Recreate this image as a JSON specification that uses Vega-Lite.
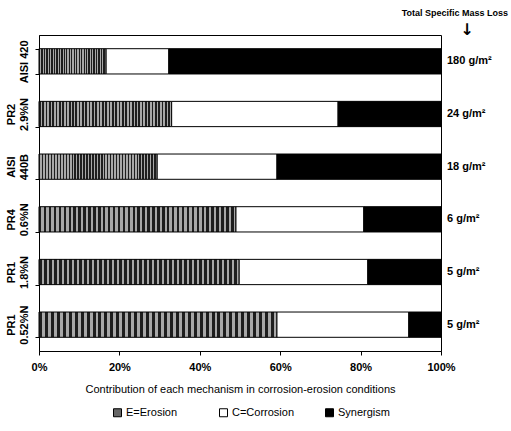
{
  "$schema": "https://vega.github.io/schema/vega-lite/v6.json",
  "autosize": "none",
  "padding": {"left": 39, "top": 35, "right": 70, "bottom": 80},
  "width": 402,
  "height": 316,
  "background": "white",
  "config": {
    "font": "Liberation Sans",
    "view": {"stroke": "black", "strokeWidth": 1},
    "axis": {"domainColor": "black", "tickColor": "black", "labelColor": "black", "titleColor": "black", "grid": false}
  },
  "datasets": {
    "bars": [
      {"sample": " |AISI 420", "mechanism": "E=Erosion", "k": 1, "value": 16.7},
      {"sample": " |AISI 420", "mechanism": "C=Corrosion", "k": 2, "value": 15.6},
      {"sample": " |AISI 420", "mechanism": "Synergism", "k": 3, "value": 67.7},
      {"sample": "PR2|2.9%N", "mechanism": "E=Erosion", "k": 1, "value": 33.0},
      {"sample": "PR2|2.9%N", "mechanism": "C=Corrosion", "k": 2, "value": 41.4},
      {"sample": "PR2|2.9%N", "mechanism": "Synergism", "k": 3, "value": 25.6},
      {"sample": "AISI|440B", "mechanism": "E=Erosion", "k": 1, "value": 29.4},
      {"sample": "AISI|440B", "mechanism": "C=Corrosion", "k": 2, "value": 29.8},
      {"sample": "AISI|440B", "mechanism": "Synergism", "k": 3, "value": 40.8},
      {"sample": "PR4|0.6%N", "mechanism": "E=Erosion", "k": 1, "value": 49.0},
      {"sample": "PR4|0.6%N", "mechanism": "C=Corrosion", "k": 2, "value": 31.8},
      {"sample": "PR4|0.6%N", "mechanism": "Synergism", "k": 3, "value": 19.2},
      {"sample": "PR1|1.8%N", "mechanism": "E=Erosion", "k": 1, "value": 49.8},
      {"sample": "PR1|1.8%N", "mechanism": "C=Corrosion", "k": 2, "value": 32.0},
      {"sample": "PR1|1.8%N", "mechanism": "Synergism", "k": 3, "value": 18.2},
      {"sample": "PR1|0.52%N", "mechanism": "E=Erosion", "k": 1, "value": 59.2},
      {"sample": "PR1|0.52%N", "mechanism": "C=Corrosion", "k": 2, "value": 32.8},
      {"sample": "PR1|0.52%N", "mechanism": "Synergism", "k": 3, "value": 8.0}
    ],
    "loss": [
      {"sample": " |AISI 420", "loss": "180 g/m²"},
      {"sample": "PR2|2.9%N", "loss": "24 g/m²"},
      {"sample": "AISI|440B", "loss": "18 g/m²"},
      {"sample": "PR4|0.6%N", "loss": "6 g/m²"},
      {"sample": "PR1|1.8%N", "loss": "5 g/m²"},
      {"sample": "PR1|0.52%N", "loss": "5 g/m²"}
    ],
    "header": [
      {"sample": " |AISI 420", "label": "Total Specific Mass Loss", "arrow": "↓"}
    ]
  },
  "encoding": {
    "y": {
      "field": "sample",
      "type": "nominal",
      "sort": [" |AISI 420", "PR2|2.9%N", "AISI|440B", "PR4|0.6%N", "PR1|1.8%N", "PR1|0.52%N"],
      "scale": {"paddingInner": 0.52, "paddingOuter": 0.26},
      "axis": {
        "title": null,
        "labelExpr": "split(datum.label, '|')",
        "labelAngle": 270,
        "labelAlign": "center",
        "labelBaseline": "bottom",
        "labelFontSize": 11,
        "labelFontWeight": "bold",
        "labelPadding": 19,
        "labelLineHeight": 13,
        "tickBand": "extent",
        "tickSize": 4
      }
    }
  },
  "layer": [
    {
      "data": {"name": "bars"},
      "mark": {"type": "bar", "stroke": "black", "strokeWidth": 1},
      "encoding": {
        "x": {
          "field": "value",
          "type": "quantitative",
          "stack": "zero",
          "scale": {"domain": [0, 100], "nice": false},
          "axis": {
            "values": [0, 20, 40, 60, 80, 100],
            "labelExpr": "datum.value + '%'",
            "title": "Contribution of each mechanism in corrosion-erosion conditions",
            "titleFontSize": 11,
            "titleFontWeight": "normal",
            "titlePadding": 11,
            "labelFontSize": 11,
            "labelFontWeight": "bold",
            "labelPadding": 6,
            "tickSize": 4,
            "labelFlush": false
          }
        },
        "fill": {
          "condition": {"test": "datum.mechanism === 'E=Erosion'", "value": {"gradient": "linear", "x1": 0, "y1": 0, "x2": 1, "y2": 0, "stops": [
              {"offset": 0, "color": "#1e1e1e"}, {"offset": 0.0125, "color": "#1e1e1e"}, {"offset": 0.0125, "color": "#a8a8a8"}, {"offset": 0.025, "color": "#a8a8a8"},
              {"offset": 0.025, "color": "#1e1e1e"}, {"offset": 0.0375, "color": "#1e1e1e"}, {"offset": 0.0375, "color": "#a8a8a8"}, {"offset": 0.05, "color": "#a8a8a8"},
              {"offset": 0.05, "color": "#1e1e1e"}, {"offset": 0.0625, "color": "#1e1e1e"}, {"offset": 0.0625, "color": "#a8a8a8"}, {"offset": 0.075, "color": "#a8a8a8"},
              {"offset": 0.075, "color": "#1e1e1e"}, {"offset": 0.0875, "color": "#1e1e1e"}, {"offset": 0.0875, "color": "#a8a8a8"}, {"offset": 0.1, "color": "#a8a8a8"},
              {"offset": 0.1, "color": "#1e1e1e"}, {"offset": 0.1125, "color": "#1e1e1e"}, {"offset": 0.1125, "color": "#a8a8a8"}, {"offset": 0.125, "color": "#a8a8a8"},
              {"offset": 0.125, "color": "#1e1e1e"}, {"offset": 0.1375, "color": "#1e1e1e"}, {"offset": 0.1375, "color": "#a8a8a8"}, {"offset": 0.15, "color": "#a8a8a8"},
              {"offset": 0.15, "color": "#1e1e1e"}, {"offset": 0.1625, "color": "#1e1e1e"}, {"offset": 0.1625, "color": "#a8a8a8"}, {"offset": 0.175, "color": "#a8a8a8"},
              {"offset": 0.175, "color": "#1e1e1e"}, {"offset": 0.1875, "color": "#1e1e1e"}, {"offset": 0.1875, "color": "#a8a8a8"}, {"offset": 0.2, "color": "#a8a8a8"},
              {"offset": 0.2, "color": "#1e1e1e"}, {"offset": 0.2125, "color": "#1e1e1e"}, {"offset": 0.2125, "color": "#a8a8a8"}, {"offset": 0.225, "color": "#a8a8a8"},
              {"offset": 0.225, "color": "#1e1e1e"}, {"offset": 0.2375, "color": "#1e1e1e"}, {"offset": 0.2375, "color": "#a8a8a8"}, {"offset": 0.25, "color": "#a8a8a8"},
              {"offset": 0.25, "color": "#1e1e1e"}, {"offset": 0.2625, "color": "#1e1e1e"}, {"offset": 0.2625, "color": "#a8a8a8"}, {"offset": 0.275, "color": "#a8a8a8"},
              {"offset": 0.275, "color": "#1e1e1e"}, {"offset": 0.2875, "color": "#1e1e1e"}, {"offset": 0.2875, "color": "#a8a8a8"}, {"offset": 0.3, "color": "#a8a8a8"},
              {"offset": 0.3, "color": "#1e1e1e"}, {"offset": 0.3125, "color": "#1e1e1e"}, {"offset": 0.3125, "color": "#a8a8a8"}, {"offset": 0.325, "color": "#a8a8a8"},
              {"offset": 0.325, "color": "#1e1e1e"}, {"offset": 0.3375, "color": "#1e1e1e"}, {"offset": 0.3375, "color": "#a8a8a8"}, {"offset": 0.35, "color": "#a8a8a8"},
              {"offset": 0.35, "color": "#1e1e1e"}, {"offset": 0.3625, "color": "#1e1e1e"}, {"offset": 0.3625, "color": "#a8a8a8"}, {"offset": 0.375, "color": "#a8a8a8"},
              {"offset": 0.375, "color": "#1e1e1e"}, {"offset": 0.3875, "color": "#1e1e1e"}, {"offset": 0.3875, "color": "#a8a8a8"}, {"offset": 0.4, "color": "#a8a8a8"},
              {"offset": 0.4, "color": "#1e1e1e"}, {"offset": 0.4125, "color": "#1e1e1e"}, {"offset": 0.4125, "color": "#a8a8a8"}, {"offset": 0.425, "color": "#a8a8a8"},
              {"offset": 0.425, "color": "#1e1e1e"}, {"offset": 0.4375, "color": "#1e1e1e"}, {"offset": 0.4375, "color": "#a8a8a8"}, {"offset": 0.45, "color": "#a8a8a8"},
              {"offset": 0.45, "color": "#1e1e1e"}, {"offset": 0.4625, "color": "#1e1e1e"}, {"offset": 0.4625, "color": "#a8a8a8"}, {"offset": 0.475, "color": "#a8a8a8"},
              {"offset": 0.475, "color": "#1e1e1e"}, {"offset": 0.4875, "color": "#1e1e1e"}, {"offset": 0.4875, "color": "#a8a8a8"}, {"offset": 0.5, "color": "#a8a8a8"},
              {"offset": 0.5, "color": "#1e1e1e"}, {"offset": 0.5125, "color": "#1e1e1e"}, {"offset": 0.5125, "color": "#a8a8a8"}, {"offset": 0.525, "color": "#a8a8a8"},
              {"offset": 0.525, "color": "#1e1e1e"}, {"offset": 0.5375, "color": "#1e1e1e"}, {"offset": 0.5375, "color": "#a8a8a8"}, {"offset": 0.55, "color": "#a8a8a8"},
              {"offset": 0.55, "color": "#1e1e1e"}, {"offset": 0.5625, "color": "#1e1e1e"}, {"offset": 0.5625, "color": "#a8a8a8"}, {"offset": 0.575, "color": "#a8a8a8"},
              {"offset": 0.575, "color": "#1e1e1e"}, {"offset": 0.5875, "color": "#1e1e1e"}, {"offset": 0.5875, "color": "#a8a8a8"}, {"offset": 0.6, "color": "#a8a8a8"},
              {"offset": 0.6, "color": "#1e1e1e"}, {"offset": 0.6125, "color": "#1e1e1e"}, {"offset": 0.6125, "color": "#a8a8a8"}, {"offset": 0.625, "color": "#a8a8a8"},
              {"offset": 0.625, "color": "#1e1e1e"}, {"offset": 0.6375, "color": "#1e1e1e"}, {"offset": 0.6375, "color": "#a8a8a8"}, {"offset": 0.65, "color": "#a8a8a8"},
              {"offset": 0.65, "color": "#1e1e1e"}, {"offset": 0.6625, "color": "#1e1e1e"}, {"offset": 0.6625, "color": "#a8a8a8"}, {"offset": 0.675, "color": "#a8a8a8"},
              {"offset": 0.675, "color": "#1e1e1e"}, {"offset": 0.6875, "color": "#1e1e1e"}, {"offset": 0.6875, "color": "#a8a8a8"}, {"offset": 0.7, "color": "#a8a8a8"},
              {"offset": 0.7, "color": "#1e1e1e"}, {"offset": 0.7125, "color": "#1e1e1e"}, {"offset": 0.7125, "color": "#a8a8a8"}, {"offset": 0.725, "color": "#a8a8a8"},
              {"offset": 0.725, "color": "#1e1e1e"}, {"offset": 0.7375, "color": "#1e1e1e"}, {"offset": 0.7375, "color": "#a8a8a8"}, {"offset": 0.75, "color": "#a8a8a8"},
              {"offset": 0.75, "color": "#1e1e1e"}, {"offset": 0.7625, "color": "#1e1e1e"}, {"offset": 0.7625, "color": "#a8a8a8"}, {"offset": 0.775, "color": "#a8a8a8"},
              {"offset": 0.775, "color": "#1e1e1e"}, {"offset": 0.7875, "color": "#1e1e1e"}, {"offset": 0.7875, "color": "#a8a8a8"}, {"offset": 0.8, "color": "#a8a8a8"},
              {"offset": 0.8, "color": "#1e1e1e"}, {"offset": 0.8125, "color": "#1e1e1e"}, {"offset": 0.8125, "color": "#a8a8a8"}, {"offset": 0.825, "color": "#a8a8a8"},
              {"offset": 0.825, "color": "#1e1e1e"}, {"offset": 0.8375, "color": "#1e1e1e"}, {"offset": 0.8375, "color": "#a8a8a8"}, {"offset": 0.85, "color": "#a8a8a8"},
              {"offset": 0.85, "color": "#1e1e1e"}, {"offset": 0.8625, "color": "#1e1e1e"}, {"offset": 0.8625, "color": "#a8a8a8"}, {"offset": 0.875, "color": "#a8a8a8"},
              {"offset": 0.875, "color": "#1e1e1e"}, {"offset": 0.8875, "color": "#1e1e1e"}, {"offset": 0.8875, "color": "#a8a8a8"}, {"offset": 0.9, "color": "#a8a8a8"},
              {"offset": 0.9, "color": "#1e1e1e"}, {"offset": 0.9125, "color": "#1e1e1e"}, {"offset": 0.9125, "color": "#a8a8a8"}, {"offset": 0.925, "color": "#a8a8a8"},
              {"offset": 0.925, "color": "#1e1e1e"}, {"offset": 0.9375, "color": "#1e1e1e"}, {"offset": 0.9375, "color": "#a8a8a8"}, {"offset": 0.95, "color": "#a8a8a8"},
              {"offset": 0.95, "color": "#1e1e1e"}, {"offset": 0.9625, "color": "#1e1e1e"}, {"offset": 0.9625, "color": "#a8a8a8"}, {"offset": 0.975, "color": "#a8a8a8"},
              {"offset": 0.975, "color": "#1e1e1e"}, {"offset": 0.9875, "color": "#1e1e1e"}, {"offset": 0.9875, "color": "#a8a8a8"}, {"offset": 1, "color": "#a8a8a8"}
            ]}},
          "field": "mechanism",
          "type": "nominal",
          "sort": ["E=Erosion", "C=Corrosion", "Synergism"],
          "scale": {"domain": ["E=Erosion", "C=Corrosion", "Synergism"], "range": ["#666666", "#ffffff", "#000000"]},
          "legend": {
            "title": null,
            "orient": "none",
            "direction": "horizontal",
            "legendX": 73,
            "legendY": 372,
            "symbolType": "square",
            "symbolSize": 64,
            "symbolStrokeColor": "black",
            "symbolStrokeWidth": 1,
            "labelFontSize": 11,
            "labelColor": "black",
            "gridAlign": "all",
            "columnPadding": 28,
            "labelOffset": 3
          }
        },
        "order": {"field": "k", "type": "quantitative"}
      }
    },
    {
      "data": {"name": "loss"},
      "mark": {"type": "text", "align": "left", "dx": 6, "fontSize": 11, "fontWeight": "bold", "color": "black"},
      "encoding": {
        "x": {"datum": 100},
        "text": {"field": "loss"}
      }
    },
    {
      "data": {"name": "header"},
      "mark": {"type": "text", "align": "right", "baseline": "middle", "dx": 67, "dy": -48, "fontSize": 9, "fontWeight": "bold", "color": "black"},
      "encoding": {
        "x": {"datum": 100},
        "text": {"field": "label"}
      }
    },
    {
      "data": {"name": "header"},
      "mark": {"type": "text", "align": "center", "baseline": "middle", "dx": 26, "dy": -31, "font": "DejaVu Sans", "fontSize": 16, "fontWeight": "bold", "color": "black"},
      "encoding": {
        "x": {"datum": 100},
        "text": {"field": "arrow"}
      }
    }
  ]
}
